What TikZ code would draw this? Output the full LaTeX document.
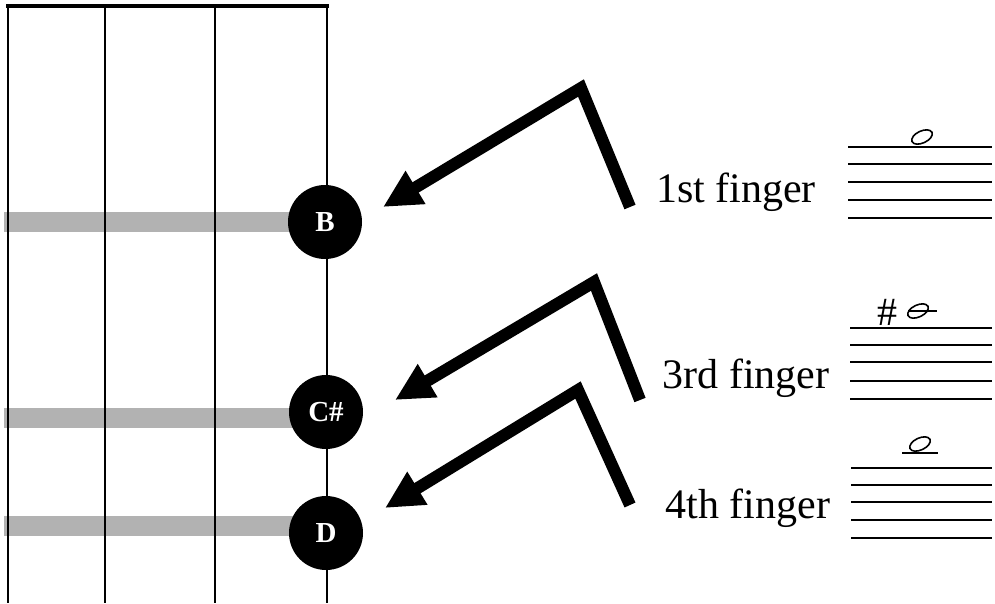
\documentclass[tikz,border=0pt]{standalone}
\usepackage{fontspec}
\setmainfont{Liberation Serif}
\usetikzlibrary{arrows.meta}
\begin{document}
\begin{tikzpicture}[x=1pt,y=-1pt,
  stringline/.style={line width=2pt,black},
  fretbar/.style={line width=20pt,draw=black!30},
  notedot/.style={circle,fill=black,minimum size=74pt,inner sep=0pt,text=white,font=\bfseries\fontsize{29}{29}\selectfont},
  bigarrow/.style={line width=12pt,-{Triangle[length=38pt,width=36pt]}},
  fingerlabel/.style={font=\fontsize{42}{42}\selectfont,anchor=center,inner sep=0pt},
  staffline/.style={line width=1.6pt},
  noteoval/.style={line width=1.6pt}
]
\useasboundingbox (0,0) rectangle (995,603);
% fret bars
\draw[fretbar] (4,222) -- (300,222);
\draw[fretbar] (4,418) -- (300,418);
\draw[fretbar] (4,526) -- (300,526);
% strings
\foreach \x in {8,105,215,327} \draw[stringline] (\x,6) -- (\x,603);
\draw[line width=4pt] (6,6) -- (329,6);
% notes
\node[notedot] (B) at (325,222) {\raisebox{-5pt}{B}};
\node[notedot] (Cs) at (326,412) {\raisebox{-5pt}{C\#}};
\node[notedot] (D) at (326,533) {\raisebox{-5pt}{D}};
% arrows
\coordinate (a1s) at (630,207); \coordinate (a1m) at (581,88); \coordinate (a1t) at (383,207);
\coordinate (a2s) at (640,400); \coordinate (a2m) at (594,282); \coordinate (a2t) at (395,400);
\coordinate (a3s) at (630,505); \coordinate (a3m) at (578,390); \coordinate (a3t) at (385,508);
\draw[bigarrow] (a1s) -- (a1m) -- (a1t);
\draw[bigarrow] (a2s) -- (a2m) -- (a2t);
\draw[bigarrow] (a3s) -- (a3m) -- (a3t);
% labels
\node[fingerlabel] (l1) at (736,192) {1st finger};
\node[fingerlabel] (l3) at (746,378) {3rd finger};
\node[fingerlabel] (l4) at (748,508) {4th finger};
% staff 1
\foreach \y in {147,164,182,200,218} \draw[staffline] (848,\y) -- (992,\y);
\draw[noteoval,rotate around={25:(922,137)}] (922,137) ellipse (11pt and 6pt);
\node[inner sep=0pt] (n1) at (922,137) {};
% staff 2
\foreach \y in {328,345,362,381,399} \draw[staffline] (850,\y) -- (992,\y);
\draw[staffline] (908,311) -- (937,311);
\draw[noteoval,rotate around={25:(918,311)}] (918,311) ellipse (11pt and 6pt);
\node[inner sep=0pt] (n2) at (918,311) {};
\node[font=\fontsize{40}{40}\selectfont,inner sep=0pt] (sh) at (887,312) {\#};
% staff 3
\foreach \y in {468,485,502,520,538} \draw[staffline] (851,\y) -- (992,\y);
\draw[staffline] (902,453) -- (938,453);
\draw[noteoval,rotate around={25:(920,444)}] (920,444) ellipse (11pt and 6pt);
\node[inner sep=0pt] (n3) at (920,444) {};
\end{tikzpicture}
\end{document}
